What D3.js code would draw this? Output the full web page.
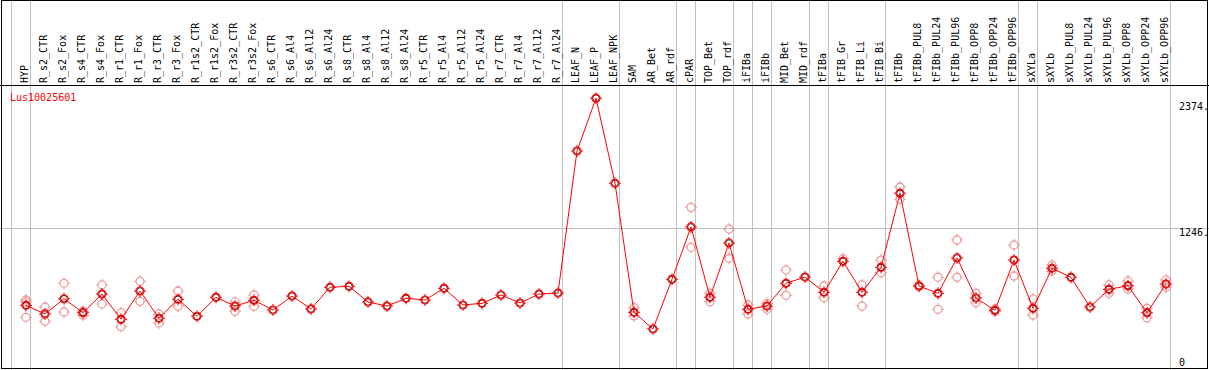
<!DOCTYPE html>
<html>
<head>
<meta charset="utf-8">
<script src="https://cdn.jsdelivr.net/npm/d3@7"></script>
<style>
  body { margin: 0; background: #fff; }
  text { font-family: "DejaVu Sans Mono", monospace; font-size: 10px; }
</style>
</head>
<body>
<svg id="chart" width="1209" height="370"></svg>
<script>
var geneName = "Lus10025601";
var columns = ["HYP","R_s2_CTR","R_s2_Fox","R_s4_CTR","R_s4_Fox","R_r1_CTR","R_r1_Fox","R_r3_CTR","R_r3_Fox",
  "R_r1s2_CTR","R_r1s2_Fox","R_r3s2_CTR","R_r3s2_Fox","R_s6_CTR","R_s6_Al4","R_s6_Al12","R_s6_Al24",
  "R_s8_CTR","R_s8_Al4","R_s8_Al12","R_s8_Al24","R_r5_CTR","R_r5_Al4","R_r5_Al12","R_r5_Al24",
  "R_r7_CTR","R_r7_Al4","R_r7_Al12","R_r7_Al24","LEAF_N","LEAF_P","LEAF_NPK","SAM","AR_Bet","AR_rdf",
  "cPAR","TOP_Bet","TOP_rdf","iFIBa","iFIBb","MID_Bet","MID_rdf","tFIBa","tFIB_Gr","tFIB_Li","tFIB_Bi",
  "tFIBb","tFIBb_PUL8","tFIBb_PUL24","tFIBb_PUL96","tFIBb_OPP8","tFIBb_OPP24","tFIBb_OPP96",
  "sXYLa","sXYLb","sXYLb_PUL8","sXYLb_PUL24","sXYLb_PUL96","sXYLb_OPP8","sXYLb_OPP24","sXYLb_OPP96"];
var means = [505,422,568,434,613,371,642,381,563,400,582,498,553,460,594,470,678,687,537,498,
  572,556,668,508,524,604,527,613,623,1984,2490,1675,438,278,754,1256,582,1102,467,498,
  716,776,630,927,630,869,1579,690,620,959,575,457,939,476,860,773,489,658,693,434,709];
var replicates = [[556,537,390],[489,352],[716,441],[448,409],[700,518],[434,300],[735,543],[422,335],[642,496],
  [],[],[537,448],[604,496],[],[],[],[],[],[],[],[],[],[],[],[],[],[],[],[],
  [],[],[],[482,403],[],[],[1444,1061],[620,540],[1236,956],[508,422],[524,467],[843,601],[],
  [690,578],[952],[700,498],[939,818],[1639,1521],[700,684],[774,467],[1131,774],[620,530],[470,447],
  [1083,786],[566,412],[891,834],[],[],[700,620],[738,661],[476,386],[748,678]];
// group separators drawn after these columns
var groupEnds = [0,28,31,34,35,37,38,39,41,42,45,52,53,60];
var yMax = 2492;
var gridValue = 1246;
var axisLabels = [2374, 1246, 0];

var svg = d3.select("#chart");
var W = 1209, H = 370;

var x = d3.scaleBand().domain(columns).range([11, 11 + columns.length * 19]);
var y = d3.scaleLinear().domain([0, yMax]).range([358, 98]);
function cx(c) { return x(c) + 15; }

// vertical group lines
svg.append("line").attr("x1", 11.5).attr("x2", 11.5).attr("y1", 0).attr("y2", H)
  .attr("stroke", "#c0c0c0");
svg.selectAll(".vgrid").data(groupEnds).enter().append("line")
  .attr("class", "vgrid")
  .attr("x1", function(i) { return x(columns[i]) + x.bandwidth() + 0.5; })
  .attr("x2", function(i) { return x(columns[i]) + x.bandwidth() + 0.5; })
  .attr("y1", 0).attr("y2", H)
  .attr("stroke", "#c0c0c0");

// horizontal grid
svg.append("line").attr("x1", 0).attr("x2", W)
  .attr("y1", Math.round(y(gridValue)) + 0.5).attr("y2", Math.round(y(gridValue)) + 0.5)
  .attr("stroke", "#c0c0c0");

// frame
svg.append("rect").attr("x", 1.5).attr("y", 0.5).attr("width", W - 3).attr("height", H - 2)
  .attr("fill", "none").attr("stroke", "#000");
svg.append("line").attr("x1", 0).attr("x2", W).attr("y1", 85.5).attr("y2", 85.5)
  .attr("stroke", "#000");

// column labels
svg.selectAll(".lbl").data(columns).enter().append("text")
  .attr("class", "lbl")
  .attr("transform", function(d) { return "translate(" + (cx(d) + 2) + ",83) rotate(-90)"; })
  .attr("fill", "#000")
  .text(function(d) { return d; });

svg.append("text").attr("x", 10).attr("y", 101).attr("fill", "red").text(geneName);

// right axis labels
svg.selectAll(".ax").data(axisLabels).enter().append("text")
  .attr("class", "ax")
  .attr("x", 1179)
  .attr("y", function(d) { return d == axisLabels[0] ? y(d) : y(d) + 8; })
  .attr("fill", "#000")
  .text(function(d) { return d == 0 ? "0" : d + "."; });

function marker(g, px, py, color, w) {
  g.append("circle").attr("cx", px).attr("cy", py).attr("r", 4)
    .attr("fill", "none").attr("stroke", color).attr("stroke-width", w);
  g.append("path")
    .attr("d", "M" + px + "," + (py - 6) + "v2M" + px + "," + (py + 4) + "v2M" + (px - 6) + "," + py + "h2M" + (px + 4) + "," + py + "h2")
    .attr("stroke", color).attr("stroke-width", 1);
}

// replicates
var repG = svg.append("g");
columns.forEach(function(c, i) {
  replicates[i].forEach(function(v) { marker(repG, cx(c), y(v), "#f09a9a", 1.3); });
});

// mean line
var line = d3.line().x(function(d, i) { return cx(columns[i]); }).y(function(d) { return y(d); });
svg.append("path").datum(means).attr("d", line)
  .attr("fill", "none").attr("stroke", "red").attr("stroke-width", 1);

var meanG = svg.append("g");
columns.forEach(function(c, i) {
  meanG.append("circle").attr("cx", cx(c)).attr("cy", y(means[i])).attr("r", 3.3)
    .attr("fill", "none").attr("stroke", "#700").attr("stroke-width", 1);
  marker(meanG, cx(c), y(means[i]), "red", 1.2);
});
</script>
</body>
</html>
